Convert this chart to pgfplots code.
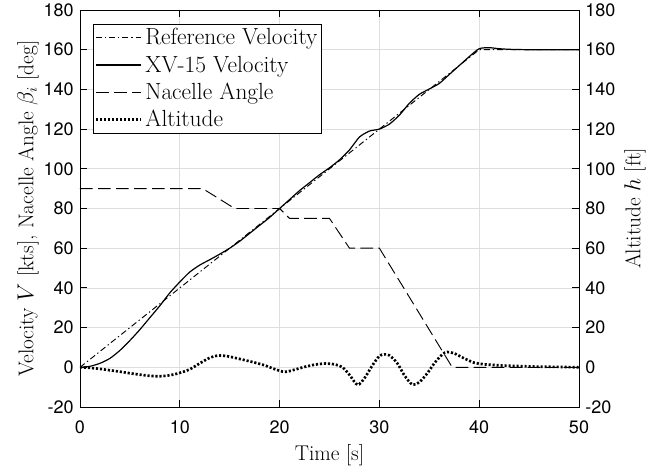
\documentclass[border=0pt]{standalone}
\usepackage{fontspec}
\usepackage{pgfplots}
\pgfplotsset{compat=1.18}
\newfontfamily\tickfont{TeX Gyre Heros}
\newcommand\labfont{\fontsize{16}{19}\selectfont}
\pgfplotsset{
  refstyle/.style={black, line width=0.7pt, dash pattern=on 4.5pt off 2.2pt on 1pt off 2.2pt},
  xvstyle/.style={black, line width=0.9pt},
  nacstyle/.style={black, line width=0.7pt, dash pattern=on 9.5pt off 4pt},
  altstyle/.style={black, line width=2pt, line cap=butt, dash pattern=on 1.6pt off 1.4pt},
  common/.style={
    scale only axis, width=374.25pt, height=297.75pt,
    xmin=0, xmax=50, ymin=-20, ymax=180,
    ytick={-20,0,...,180},
    tick align=inside, major tick length=5pt,
    tick style={black, line width=0.6pt},
    axis line style={line width=0.6pt},
    /pgf/number format/assume math mode=true,
    ticklabel style={font=\tickfont\fontsize{13.5}{15}\selectfont},
  },
}
\begin{document}
\begin{tikzpicture}
\begin{axis}[
  common, name=main,
  xtick={0,10,...,50},
  xtick pos=both, ytick pos=left,
  xticklabel style={yshift=-6.7pt},
  yticklabel style={xshift=-1.2pt},
  grid=major, grid style={color=black!13, line width=0.5pt},
  xlabel={Time [s]},
  every axis x label/.style={at={(rel axis cs:0.5,0)}, yshift=-40pt, anchor=base, font=\labfont},
  ylabel={Velocity $V$ [kts], Nacelle Angle $\beta_i$ [deg]},
  every axis y label/.style={at={(rel axis cs:0,0.5)}, xshift=-39pt, rotate=90, anchor=center, font=\labfont},
  legend style={at={(rel axis cs:0,1)}, xshift=9.75pt, yshift=-10.5pt, anchor=north west,
    font=\fontsize{17.5}{20}\selectfont, draw=black, line width=0.5pt,
    fill=white, inner sep=1pt, row sep=2.5pt,
    cells={anchor=west, text height=12.5pt, text depth=3.5pt, inner sep=2pt}},
  legend image code/.code={\draw[#1] (0pt,0pt) -- (34pt,0pt);},
]
\addplot[refstyle] coordinates {(0,0) (40,160) (50,160)};
\addlegendentry{Reference Velocity}
\addplot[xvstyle, smooth, tension=0.4] coordinates {
(0,0) (1,0.5) (2,2) (3,4.5) (4,8.5) (5,13.5) (6,19) (7,25) (8,31) (9,37.5)
(10,43) (11,48) (12,51.5) (13,54.2) (14,57) (15,60) (16,63.5) (17,67.5) (18,71.5) (19,75.5)
(20,80) (21,84.5) (22,89) (23,93) (24,97) (25,100.5) (26,104.5) (27,109.5) (28,116) (29,119)
(30,120) (31,122.5) (32,127) (33,133) (34,137.5) (35,140.2) (36,143) (37,147.5) (38,152) (39,156.5)
(40,160.5) (41,161) (42,160.5) (43,160.2) (45,160) (50,160)};
\addlegendentry{XV-15 Velocity}
\addplot[nacstyle] coordinates {(0,90) (12.3,90) (15.5,80) (20,80) (21,75) (25,75) (27,60) (30,60) (37.3,0) (50,0)};
\addlegendentry{Nacelle Angle}
\addlegendimage{altstyle}
\addlegendentry{Altitude}
\end{axis}
\begin{axis}[
  common,
  axis x line=none, axis y line*=right,
  yticklabel style={xshift=1.2pt},
  ylabel={Altitude $h$ [ft]},
  every axis y label/.style={at={(rel axis cs:1,0.5)}, xshift=42pt, rotate=90, anchor=center, font=\labfont},
]
\addplot[altstyle, smooth, tension=0.5] coordinates {
(0,0) (1,-0.3) (2,-0.8) (3,-1.5) (4,-2.2) (5,-3) (6,-3.7) (7,-4.3) (8,-4.5) (9,-4)
(10,-2.8) (11,-1) (12,2) (13,4.8) (13.8,5.9) (14.6,5.7) (15.5,4.8) (16.5,3.6) (17.5,2.4) (18.5,1)
(19.5,-0.9) (20.5,-2.3) (21.5,-1.2) (22.5,0.2) (23.5,1.3) (24.6,1.9) (25.5,1.5) (26.3,0) (27,-3.8) (27.8,-8.8)
(28.5,-5.5) (29.3,1) (30,5.7) (30.5,6.5) (31,6) (31.8,2) (32.5,-4) (33.3,-8.7) (34,-7.5) (34.8,-3)
(35.5,2) (36.3,6.5) (36.8,7.7) (37.5,7) (38.5,4.5) (39.5,2.3) (40.5,1.5) (42,1) (44,0.6) (46,0.3) (48,0.2) (50,0)};
\end{axis}
\pgfresetboundingbox
\path ([xshift=-60pt,yshift=-44.25pt]main.south west) rectangle ([xshift=64.5pt,yshift=7.5pt]main.north east);
\end{tikzpicture}
\end{document}
